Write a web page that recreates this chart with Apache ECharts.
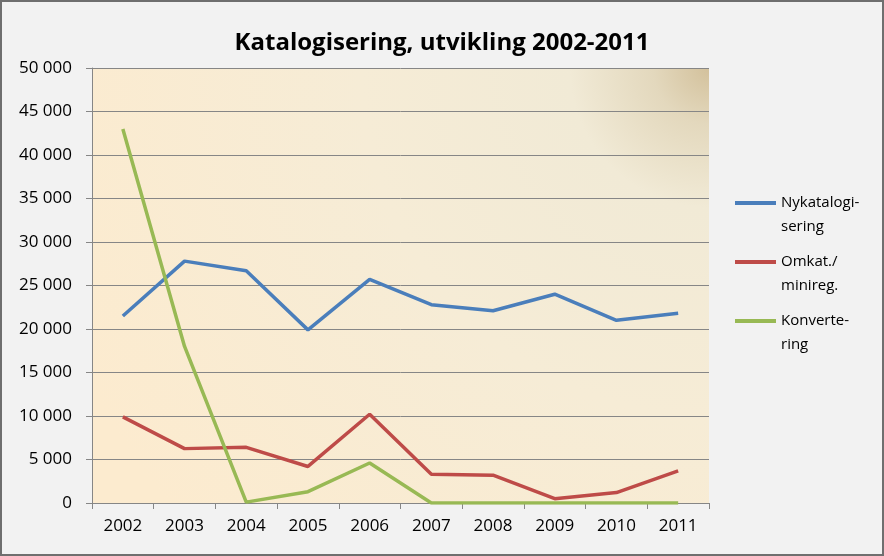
<!DOCTYPE html>
<html lang="no">
<head>
    <meta charset="utf-8">
    <title>Katalogisering, utvikling 2002-2011</title>
    <script src="https://cdn.jsdelivr.net/npm/echarts@6/dist/echarts.min.js"></script>
    <style>
        html, body { margin: 0; padding: 0; background: #f2f2f2; }
        #main { position: absolute; left: 0; top: 0; width: 884px; height: 556px; }
        #frame {
            position: absolute; left: 0; top: 0; width: 884px; height: 556px;
            box-sizing: border-box; border: 2px solid #6f6f6f; pointer-events: none;
        }
    </style>
</head>
<body>
<div id="main"></div>
<div id="frame"></div>
<script>
    var years = ['2002', '2003', '2004', '2005', '2006', '2007', '2008', '2009', '2010', '2011'];
    var seriesNames = ['Nykatalogi-\nsering', 'Omkat./\nminireg.', 'Konverte-\nring'];
    var nykatalogisering = [21500, 27800, 26700, 19900, 25700, 22800, 22100, 24000, 21000, 21800];
    var omkatalogisering = [9900, 6250, 6400, 4200, 10200, 3300, 3200, 500, 1200, 3700];
    var konvertering = [43000, 18000, 100, 1300, 4600, 0, 0, 0, 0, 0];
    var lineColors = ['#4a7ebb', '#be4b48', '#98b954'];

    var font = 'Open Sans';
    var myChart = echarts.init(document.getElementById('main'));

    function thousands(v) {
        return String(v).replace(/\B(?=(\d{3})+(?!\d))/g, ' ');
    }

    function makeSeries(name, data, color) {
        return {
            name: name,
            type: 'line',
            data: data,
            symbol: 'none',
            lineStyle: { width: 3.5, color: color },
            itemStyle: { color: color }
        };
    }

    var option = {
        backgroundColor: '#f2f2f2',
        animation: false,
        title: {
            text: 'Katalogisering, utvikling 2002-2011',
            left: 'center',
            top: 26,
            textStyle: { fontFamily: font, fontSize: 24, fontWeight: 'bold', color: '#000' }
        },
        grid: {
            left: 92, right: 175, top: 68, bottom: 53,
            show: true,
            borderWidth: 0,
            backgroundColor: new echarts.graphic.RadialGradient(1, 0, 1.6, [
                { offset: 0, color: '#d3c19c' },
                { offset: 0.08, color: '#e3d8bd' },
                { offset: 0.2, color: '#f1ead6' },
                { offset: 0.5, color: '#f6ecd6' },
                { offset: 1, color: '#fcebcf' }
            ])
        },
        legend: {
            orient: 'vertical',
            left: 730,
            top: 162,
            itemWidth: 41,
            itemHeight: 4,
            itemGap: -13,
            icon: 'rect',
            textStyle: { fontFamily: font, fontSize: 15, color: '#000', lineHeight: 24 },
            // blank first line keeps the line icon level with the first text line
            formatter: function (name) { return ' \n' + name; },
            data: seriesNames
        },
        xAxis: {
            type: 'category',
            data: years,
            boundaryGap: true,
            axisLine: { lineStyle: { color: '#868686', width: 1 } },
            axisTick: { show: true, length: 6, lineStyle: { color: '#868686' } },
            axisLabel: { fontFamily: font, fontSize: 17, color: '#000', margin: 15 }
        },
        yAxis: {
            type: 'value',
            min: 0,
            max: 50000,
            interval: 5000,
            axisLine: { show: true, lineStyle: { color: '#868686', width: 1 } },
            axisTick: { show: true, length: 6, lineStyle: { color: '#868686' } },
            splitLine: { lineStyle: { color: '#868686', width: 1 } },
            axisLabel: {
                fontFamily: font, fontSize: 17, color: '#000', margin: 20,
                formatter: function (v) { return thousands(v); }
            }
        },
        series: [
            makeSeries(seriesNames[0], nykatalogisering, lineColors[0]),
            makeSeries(seriesNames[1], omkatalogisering, lineColors[1]),
            makeSeries(seriesNames[2], konvertering, lineColors[2])
        ]
    };

    myChart.setOption(option);
</script>
</body>
</html>
